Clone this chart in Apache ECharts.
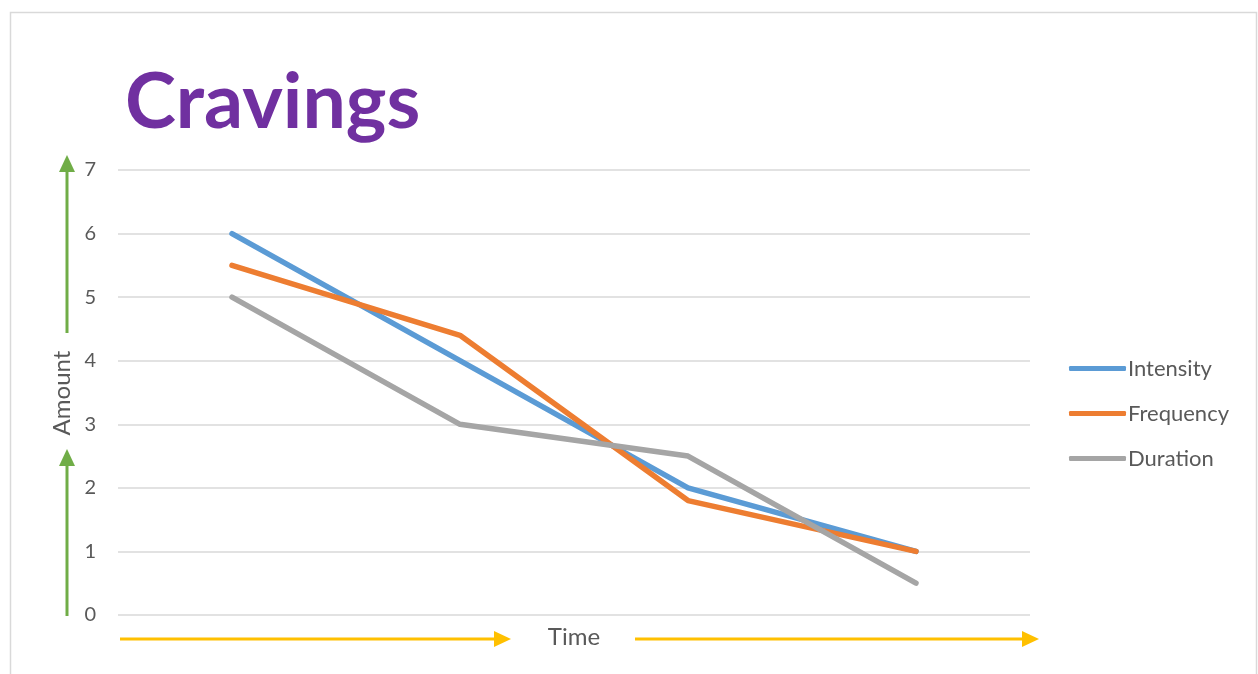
<!DOCTYPE html>
<html>
<head>
<meta charset="utf-8">
<script src="https://cdn.jsdelivr.net/npm/echarts@6/dist/echarts.min.js"></script>
<style>html,body{margin:0;padding:0;background:#fff;}#c{width:1258px;height:674px;}</style>
</head>
<body>
<div id="c"></div>
<script>
var categories = ['T1', 'T2', 'T3', 'T4'];
var intensity = [6, 4, 2, 1];
var frequency = [5.5, 4.4, 1.8, 1];
var duration = [5, 3, 2.5, 0.5];
var yTicks = [0, 1, 2, 3, 4, 5, 6, 7];

var chart = echarts.init(document.getElementById('c'));
var FONT = 'Lato, "Open Sans", sans-serif';
var green = '#70AD47', yellow = '#FFC000';
function mk(name, data, color) {
  return {
    name: name, type: 'line', data: data, symbol: 'none', showSymbol: false,
    lineStyle: { width: 5.5, color: color, cap: 'round', join: 'round' },
    itemStyle: { color: color }
  };
}
chart.setOption({
  animation: false,
  title: {
    text: 'Cravings', left: 120, top: 60,
    textStyle: { color: '#7030A0', fontFamily: FONT, fontWeight: 'bold', fontSize: 77 }
  },
  grid: { left: 118, right: 228, top: 170, bottom: 59, containLabel: false },
  legend: {
    orient: 'vertical', left: 1064, top: 352, itemWidth: 57, itemHeight: 5, itemGap: 22,
    icon: 'roundRect',
    textStyle: { color: '#595959', fontFamily: FONT, fontSize: 22, lineHeight: 23, padding: [0, 0, 0, -3] },
    data: ['Intensity', 'Frequency', 'Duration']
  },
  xAxis: {
    type: 'category', data: categories, boundaryGap: true,
    axisLine: { show: false }, axisTick: { show: false }, axisLabel: { show: false }
  },
  yAxis: {
    type: 'value', min: yTicks[0], max: yTicks[yTicks.length - 1], interval: 1,
    axisLine: { show: false }, axisTick: { show: false },
    axisLabel: { margin: 22, color: '#595959', fontFamily: FONT, fontSize: 20 },
    splitLine: { lineStyle: { color: '#D9D9D9', width: 1.5 } }
  },
  series: [
    mk('Intensity', intensity, '#5B9BD5'),
    mk('Frequency', frequency, '#ED7D31'),
    mk('Duration', duration, '#A5A5A5')
  ],
  graphic: [
    { type: 'rect', shape: { x: 10.5, y: 12.5, width: 1246, height: 700 }, style: { fill: 'none', stroke: '#D9D9D9', lineWidth: 1.5 }, silent: true },
    // green arrows
    { type: 'line', shape: { x1: 67, y1: 616, x2: 67, y2: 462 }, style: { stroke: green, lineWidth: 3 } },
    { type: 'polygon', shape: { points: [[59, 466], [75, 466], [67, 449]] }, style: { fill: green } },
    { type: 'line', shape: { x1: 67, y1: 333, x2: 67, y2: 168 }, style: { stroke: green, lineWidth: 3 } },
    { type: 'polygon', shape: { points: [[59, 172], [75, 172], [67, 155]] }, style: { fill: green } },
    // yellow arrows
    { type: 'line', shape: { x1: 120, y1: 639, x2: 498, y2: 639 }, style: { stroke: yellow, lineWidth: 3 } },
    { type: 'polygon', shape: { points: [[494, 631], [494, 647], [511, 639]] }, style: { fill: yellow } },
    { type: 'line', shape: { x1: 635, y1: 639, x2: 1026, y2: 639 }, style: { stroke: yellow, lineWidth: 3 } },
    { type: 'polygon', shape: { points: [[1022, 631], [1022, 647], [1039, 639]] }, style: { fill: yellow } },
    // axis titles
    { type: 'text', x: 574, y: 637, style: { text: 'Time', fill: '#595959', font: '24px ' + FONT, align: 'center', verticalAlign: 'middle' } },
    { type: 'text', x: 62, y: 393, rotation: Math.PI / 2, style: { text: 'Amount', fill: '#595959', font: '24px ' + FONT, align: 'center', verticalAlign: 'middle' } }
  ]
});
</script>
</body>
</html>
